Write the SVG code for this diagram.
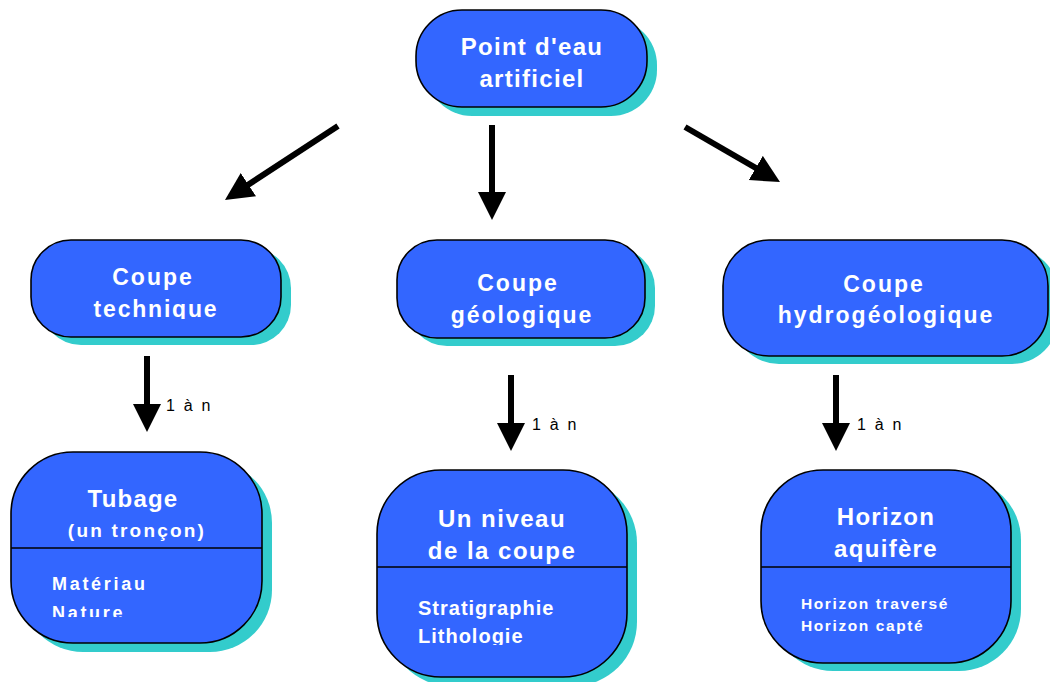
<svg xmlns="http://www.w3.org/2000/svg" width="1050" height="682" viewBox="0 0 1050 682">
  <defs>
    <style>
      .shadow { fill: #33CCCC; }
      .box { fill: #3366FF; stroke: #000; stroke-width: 1.6; }
      .sep { stroke: #000; stroke-width: 1.6; }
      .title { font-family: "Liberation Sans", Arial, sans-serif; font-weight: bold; fill: #fff; text-anchor: middle; }
      .attr { font-family: "Liberation Sans", Arial, sans-serif; font-weight: bold; fill: #fff; }
      .card { font-family: "Liberation Sans", Arial, sans-serif; font-size: 16px; letter-spacing: 2.2px; fill: #000; }
      .link { stroke: #000; stroke-width: 6; fill: none; }
    </style>
    <!-- arrowhead: tip sits 20px beyond the end of the shaft -->
    <marker id="head" markerUnits="userSpaceOnUse" markerWidth="30" markerHeight="30" refX="8" refY="14" orient="auto">
      <path d="M0,0 L28,14 L0,28 Z" fill="#000"/>
    </marker>
    <clipPath id="clipTech"><rect x="31" y="240" width="250" height="79"/></clipPath>
    <clipPath id="clipTub"><rect x="11" y="548" width="251" height="69"/></clipPath>
    <clipPath id="clipNiv"><rect x="377" y="567" width="250" height="78"/></clipPath>
  </defs>

  <!-- Point d'eau artificiel -->
  <g id="point-eau">
    <rect class="shadow" x="426" y="19" width="231" height="97" rx="46"/>
    <rect class="box" x="416" y="10" width="231" height="97" rx="46"/>
    <text class="title" font-size="24" letter-spacing="1.3" x="532" y="55">Point d'eau</text>
    <text class="title" font-size="24" letter-spacing="1.3" x="532" y="87">artificiel</text>
  </g>

  <!-- Coupe technique -->
  <g id="coupe-technique">
    <rect class="shadow" x="41" y="248" width="250" height="97" rx="40"/>
    <rect class="box" x="31" y="240" width="250" height="97" rx="40"/>
    <text class="title" font-size="23" letter-spacing="2" x="153" y="285">Coupe</text>
    <text class="title" font-size="23" letter-spacing="1.8" x="156" y="317" clip-path="url(#clipTech)">technique</text>
  </g>

  <!-- Coupe géologique -->
  <g id="coupe-geologique">
    <rect class="shadow" x="407" y="248" width="248" height="98" rx="40"/>
    <rect class="box" x="397" y="240" width="248" height="98" rx="40"/>
    <text class="title" font-size="23" letter-spacing="2" x="518" y="291">Coupe</text>
    <text class="title" font-size="23" letter-spacing="2" x="522" y="323">géologique</text>
  </g>

  <!-- Coupe hydrogéologique -->
  <g id="coupe-hydrogeologique">
    <rect class="shadow" x="733" y="248" width="325" height="116" rx="46"/>
    <rect class="box" x="723" y="240" width="325" height="116" rx="46"/>
    <text class="title" font-size="23" letter-spacing="2" x="884" y="292">Coupe</text>
    <text class="title" font-size="23" letter-spacing="2" x="886" y="323">hydrogéologique</text>
  </g>

  <!-- Tubage -->
  <g id="tubage">
    <rect class="shadow" x="21" y="461" width="251" height="191" rx="62"/>
    <rect class="box" x="11" y="452" width="251" height="191" rx="62"/>
    <line class="sep" x1="11" y1="548" x2="262" y2="548"/>
    <text class="title" font-size="24" letter-spacing="1.2" x="133" y="507">Tubage</text>
    <text class="title" font-size="19" letter-spacing="2.2" x="137" y="537">(un tronçon)</text>
    <g clip-path="url(#clipTub)">
      <text class="attr" font-size="18" letter-spacing="2.7" x="52" y="590">Matériau</text>
      <text class="attr" font-size="18" letter-spacing="2.7" x="52" y="619">Nature</text>
    </g>
  </g>

  <!-- Un niveau de la coupe -->
  <g id="niveau-coupe">
    <rect class="shadow" x="387" y="479" width="250" height="207" rx="64"/>
    <rect class="box" x="377" y="470" width="250" height="207" rx="64"/>
    <line class="sep" x1="377" y1="567" x2="627" y2="567"/>
    <text class="title" font-size="24" letter-spacing="1.5" x="502" y="527">Un niveau</text>
    <text class="title" font-size="24" letter-spacing="1.5" x="502" y="559">de la coupe</text>
    <g clip-path="url(#clipNiv)">
      <text class="attr" font-size="20" letter-spacing="1" x="418" y="615">Stratigraphie</text>
      <text class="attr" font-size="20" letter-spacing="1" x="418" y="643">Lithologie</text>
    </g>
  </g>

  <!-- Horizon aquifère -->
  <g id="horizon-aquifere">
    <rect class="shadow" x="771" y="478" width="250" height="193" rx="62"/>
    <rect class="box" x="761" y="470" width="250" height="193" rx="62"/>
    <line class="sep" x1="761" y1="567" x2="1011" y2="567"/>
    <text class="title" font-size="24" letter-spacing="1.3" x="886" y="525">Horizon</text>
    <text class="title" font-size="24" letter-spacing="1.3" x="886" y="557">aquifère</text>
    <text class="attr" font-size="15.5" letter-spacing="1.6" x="801" y="609">Horizon traversé</text>
    <text class="attr" font-size="15.5" letter-spacing="1.6" x="801" y="631">Horizon capté</text>
  </g>

  <!-- Connectors -->
  <g id="connectors">
    <line class="link" x1="338" y1="126" x2="241.7" y2="189" marker-end="url(#head)"/>
    <line class="link" x1="492" y1="125" x2="492" y2="200" marker-end="url(#head)"/>
    <line class="link" x1="685" y1="127" x2="762.7" y2="172" marker-end="url(#head)"/>
    <line class="link" x1="147" y1="356" x2="147" y2="412" marker-end="url(#head)"/>
    <line class="link" x1="511" y1="375" x2="511" y2="431" marker-end="url(#head)"/>
    <line class="link" x1="836" y1="375" x2="836" y2="431" marker-end="url(#head)"/>
    <text class="card" x="166" y="411">1 à n</text>
    <text class="card" x="532" y="430">1 à n</text>
    <text class="card" x="857" y="430">1 à n</text>
  </g>
</svg>
